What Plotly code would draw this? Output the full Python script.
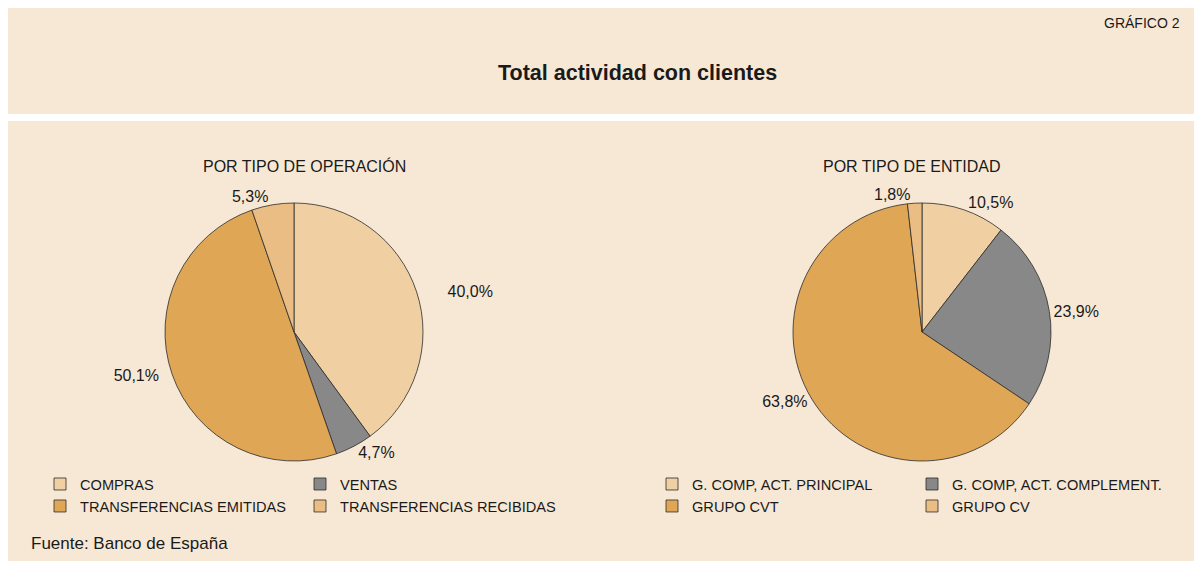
import plotly.graph_objects as go

# ---- data ----
op_labels = ["COMPRAS", "VENTAS", "TRANSFERENCIAS EMITIDAS", "TRANSFERENCIAS RECIBIDAS"]
op_values = [40.0, 4.7, 50.1, 5.3]
ent_labels = ["G. COMP, ACT. PRINCIPAL", "G. COMP, ACT. COMPLEMENT.", "GRUPO CVT", "GRUPO CV"]
ent_values = [10.5, 23.9, 63.8, 1.8]
slice_colors = ["#f0cfa3", "#888888", "#dea655", "#e9bd83"]

title_text = "Total actividad con clientes"
chart_no = "GRÁFICO 2"
sub1 = "POR TIPO DE OPERACIÓN"
sub2 = "POR TIPO DE ENTIDAD"
source = "Fuente: Banco de España"

# ---- layout geometry ----
# The page body has an 8px margin; the figure fills the rest of the window.
OFF = 8
W, H = 1202 - OFF, 561 - OFF
L, R = 92, 94
GW = W - L - R
BG = "#f7e8d5"
FONT = "Liberation Sans, Arial, Helvetica, sans-serif"
TXT = "#1a1a1a"


def px(x):
    """window x pixel -> paper fraction"""
    return (x - OFF - L) / GW


def py(y):
    """window y pixel -> paper fraction"""
    return (H - (y - OFF)) / H


def pie_domain(cx, cy, r):
    return dict(x=[px(cx - r), px(cx + r)], y=[py(cy + r), py(cy - r)])


NB = "\u00a0"
VAL = "%{value:.1f}%"
# small spacing tweaks so some outside labels sit a little further from the rim
op_tpl = [NB * 6 + VAL, VAL, VAL + NB * 2, VAL]
ent_tpl = [VAL, VAL, VAL, VAL]

common = dict(
    sort=False, direction="clockwise", rotation=0,
    textposition="outside",
    textfont=dict(size=16, color=TXT, family=FONT),
    marker=dict(colors=slice_colors, line=dict(color="#2b2b2b", width=0.8)),
    hoverinfo="label+value",
)

fig = go.Figure()
fig.add_trace(go.Pie(labels=op_labels, values=op_values, domain=pie_domain(294, 332, 129),
                     texttemplate=op_tpl, legend="legend", **common))
fig.add_trace(go.Pie(labels=ent_labels, values=ent_values, domain=pie_domain(922, 332, 129),
                     texttemplate=ent_tpl, legend="legend2", **common))

shapes = [
    dict(type="rect", xref="paper", yref="paper", x0=px(8), x1=px(1202), y0=py(114), y1=py(8),
         fillcolor=BG, line=dict(width=0), layer="below"),
    dict(type="rect", xref="paper", yref="paper", x0=px(8), x1=px(1202), y0=py(561), y1=py(121),
         fillcolor=BG, line=dict(width=0), layer="below"),
]

ann = [
    dict(text=chart_no, x=px(1182), y=py(23), xanchor="right", yanchor="middle", font=dict(size=14)),
    dict(text="<b>" + title_text + "</b>", x=px(637), y=py(73), xanchor="center", yanchor="middle",
         font=dict(size=21.5)),
    dict(text=sub1, x=px(304.5), y=py(166), xanchor="center", yanchor="middle", font=dict(size=16)),
    dict(text=sub2, x=px(912), y=py(166), xanchor="center", yanchor="middle", font=dict(size=16)),
    dict(text=source, x=px(29), y=py(543), xanchor="left", yanchor="middle", font=dict(size=17)),
]
for a in ann:
    a.update(xref="paper", yref="paper", showarrow=False)
    a["font"].update(family=FONT, color=TXT)

legend_common = dict(
    orientation="h", entrywidth=215, entrywidthmode="pixels", bgcolor="rgba(0,0,0,0)",
    font=dict(size=14.6, family=FONT, color=TXT), yanchor="top", traceorder="normal",
    itemclick=False, itemdoubleclick=False,
)

fig.update_layout(
    width=W, height=H,
    margin=dict(l=L, r=R, t=0, b=0, autoexpand=False),
    paper_bgcolor="white", plot_bgcolor="rgba(0,0,0,0)",
    separators=",.",
    font=dict(family=FONT, color=TXT),
    shapes=shapes, annotations=ann,
    legend=dict(x=px(40), xanchor="left", y=py(468), **legend_common),
    legend2=dict(x=px(1172), xanchor="right", y=py(468), **legend_common),
)

fig.write_html("out.html")
